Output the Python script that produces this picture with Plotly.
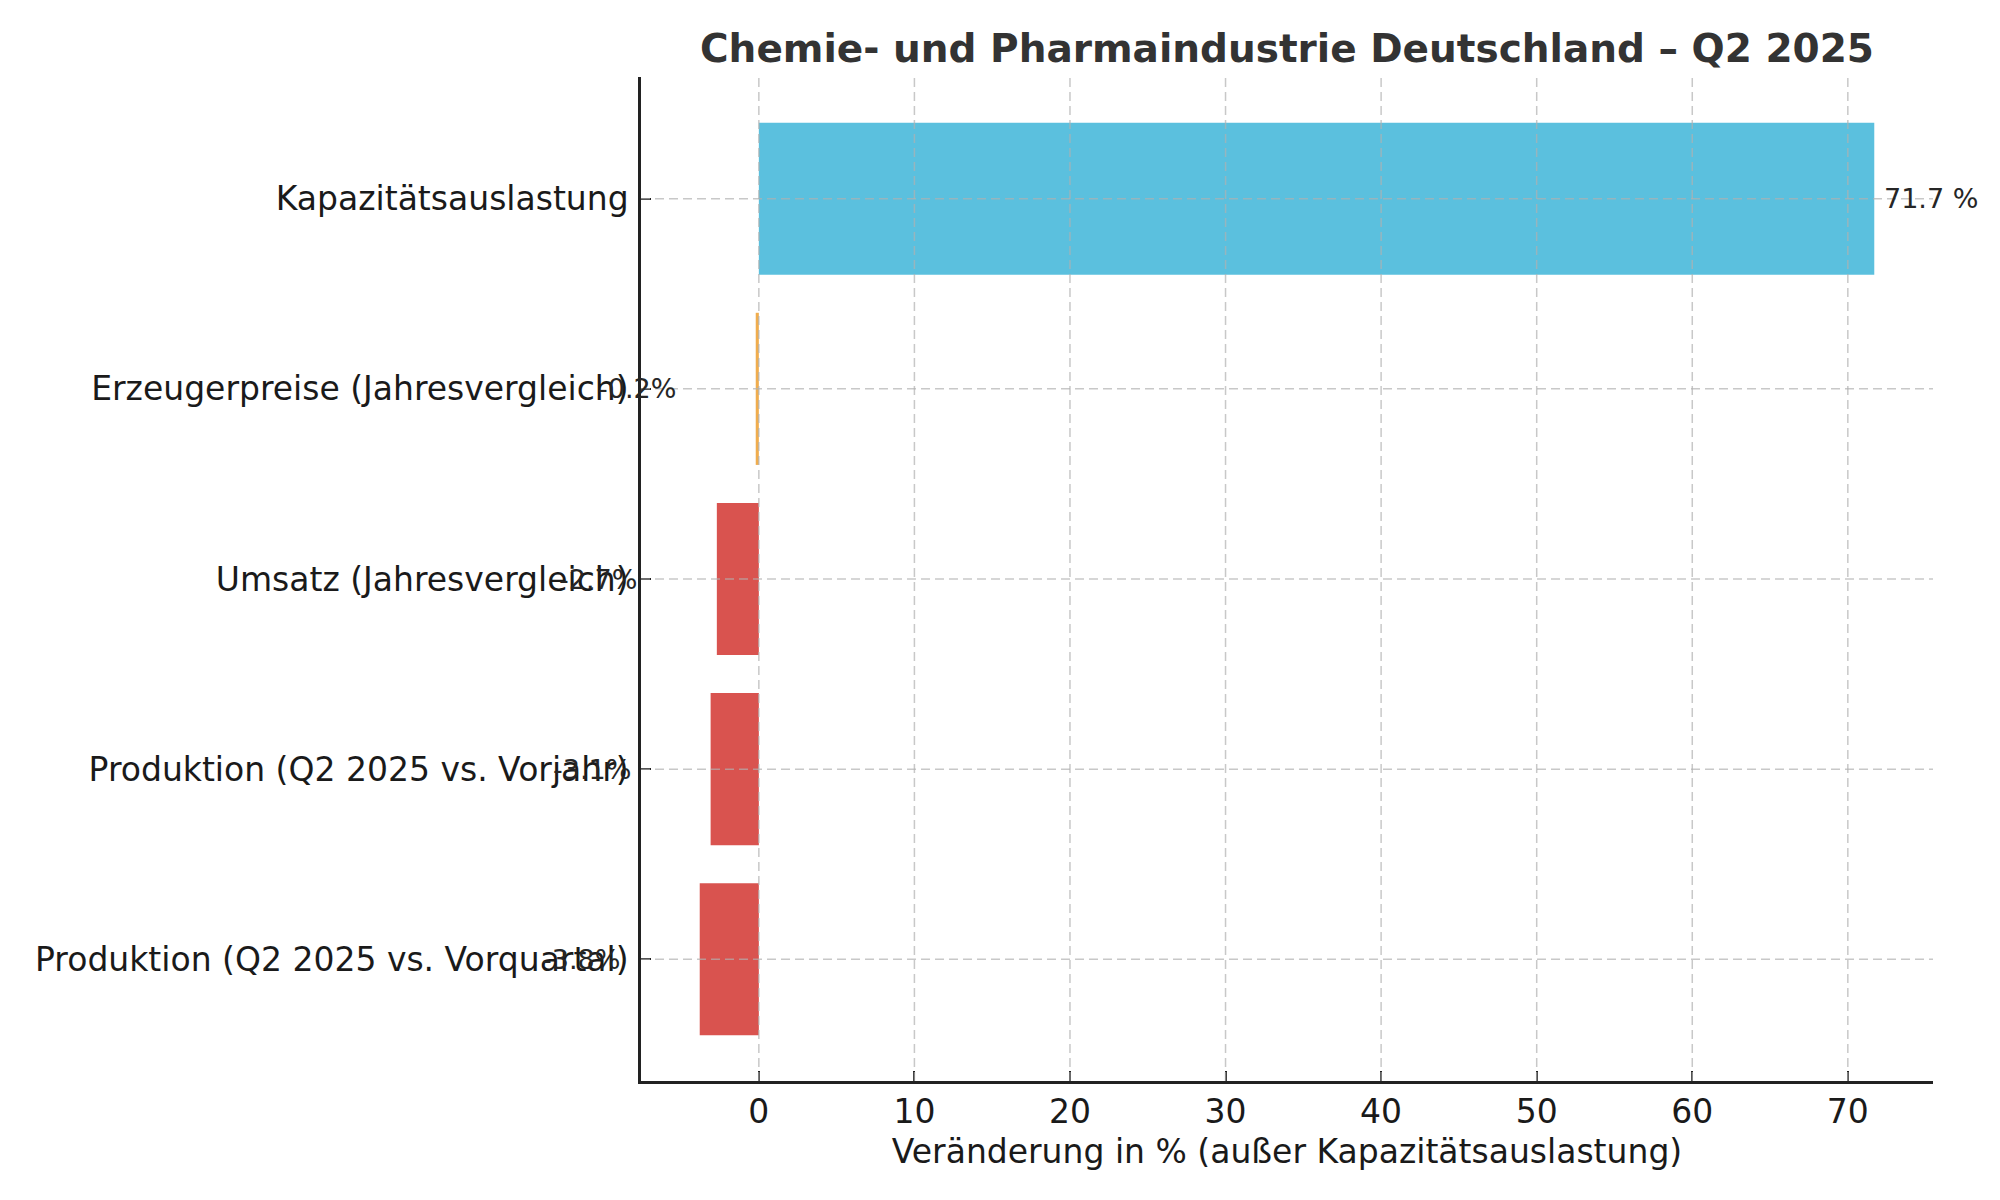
import plotly.graph_objects as go

# ---- data (top to bottom) ----
categories = [
    "Kapazitätsauslastung",
    "Erzeugerpreise (Jahresvergleich)",
    "Umsatz (Jahresvergleich)",
    "Produktion (Q2 2025 vs. Vorjahr)",
    "Produktion (Q2 2025 vs. Vorquartal)",
]
values = [71.7, -0.2, -2.7, -3.1, -3.8]
bar_colors = ["#5bc0de", "#f0ad4e", "#d9534f", "#d9534f", "#d9534f"]
value_labels = ["71.7 %", "-0.2%", "-2.7%", "-3.1%", "-3.8%"]
x_ticks = [0, 10, 20, 30, 40, 50, 60, 70]

title = "Chemie- und Pharmaindustrie Deutschland – Q2 2025"
x_title = "Veränderung in % (außer Kapazitätsauslastung)"

# ---- layout geometry (page body has an 8px offset) ----
W, H = 2000, 1200
ml, mr, mt, mb = 633, 75, 69, 127
FONT = "DejaVu Sans"

vmin = min(0, min(values))
vmax = max(0, max(values))
span = vmax - vmin
x_range = [vmin - 0.05 * span, vmax + 0.05 * span]
n = len(categories)
y_range = [n - 1 + 0.4 + 0.05 * (n - 0.2), -0.4 - 0.05 * (n - 0.2)]

plot_w = W - ml - mr
px_per_unit = plot_w / (x_range[1] - x_range[0])

fig = go.Figure()
fig.add_trace(go.Bar(
    x=values,
    y=categories,
    orientation="h",
    marker=dict(color=bar_colors, line=dict(width=0)),
    hoverinfo="skip",
))

# value labels
for cat, v, lab in zip(categories, values, value_labels):
    if v >= 0:
        fig.add_annotation(x=v, y=cat, xref="x", yref="y", text=lab,
                           showarrow=False, xanchor="left", yanchor="middle",
                           xshift=0.5 * px_per_unit,
                           font=dict(family=FONT, size=27, color="#262626"))
    else:
        fig.add_annotation(x=v, y=cat, xref="x", yref="y", text=lab,
                           showarrow=False, xanchor="right", yanchor="middle",
                           xshift=-5 * px_per_unit,
                           font=dict(family=FONT, size=27, color="#262626"))

# gridlines drawn above bars (as in reference)
grid_style = dict(color="rgba(176,176,176,0.7)", width=1.5, dash="9px,5px")
for t in x_ticks:
    fig.add_shape(type="line", xref="x", yref="paper", x0=t, x1=t, y0=0, y1=1,
                  line=grid_style, layer="above")
for cat in categories:
    fig.add_shape(type="line", xref="paper", yref="y", x0=0, x1=1, y0=cat, y1=cat,
                  line=grid_style, layer="above")

fig.update_layout(
    width=W, height=H,
    margin=dict(l=ml, r=mr, t=mt, b=mb, pad=0),
    paper_bgcolor="white",
    plot_bgcolor="white",
    bargap=0.2,
    showlegend=False,
    font=dict(family=FONT, color="#1a1a1a"),
    title=dict(text=f"<b>{title}</b>", x=(ml + plot_w / 2) / W, xanchor="center",
               y=1 - 40 / H, yanchor="middle",
               font=dict(family=FONT, size=39, color="#333333")),
    xaxis=dict(
        range=x_range,
        tickvals=x_ticks,
        ticktext=[str(t) for t in x_ticks],
        showgrid=False, zeroline=False,
        showline=True, linecolor="#222222", linewidth=2.5,
        ticks="inside", ticklen=10, tickwidth=2.2, tickcolor="#222222",
        tickfont=dict(family=FONT, size=33, color="#1a1a1a"),
        title=dict(text=x_title, standoff=10,
                   font=dict(family=FONT, size=33, color="#1a1a1a")),
        layer="above traces",
    ),
    yaxis=dict(
        type="category",
        categoryorder="array", categoryarray=categories,
        range=y_range,
        showgrid=False, zeroline=False,
        showline=True, linecolor="#222222", linewidth=2.5,
        ticks="inside", ticklen=10, tickwidth=2.2, tickcolor="#222222",
        tickfont=dict(family=FONT, size=33, color="#1a1a1a"),
        ticklabelstandoff=3,
        layer="above traces",
    ),
)

fig.write_html("out.html")
